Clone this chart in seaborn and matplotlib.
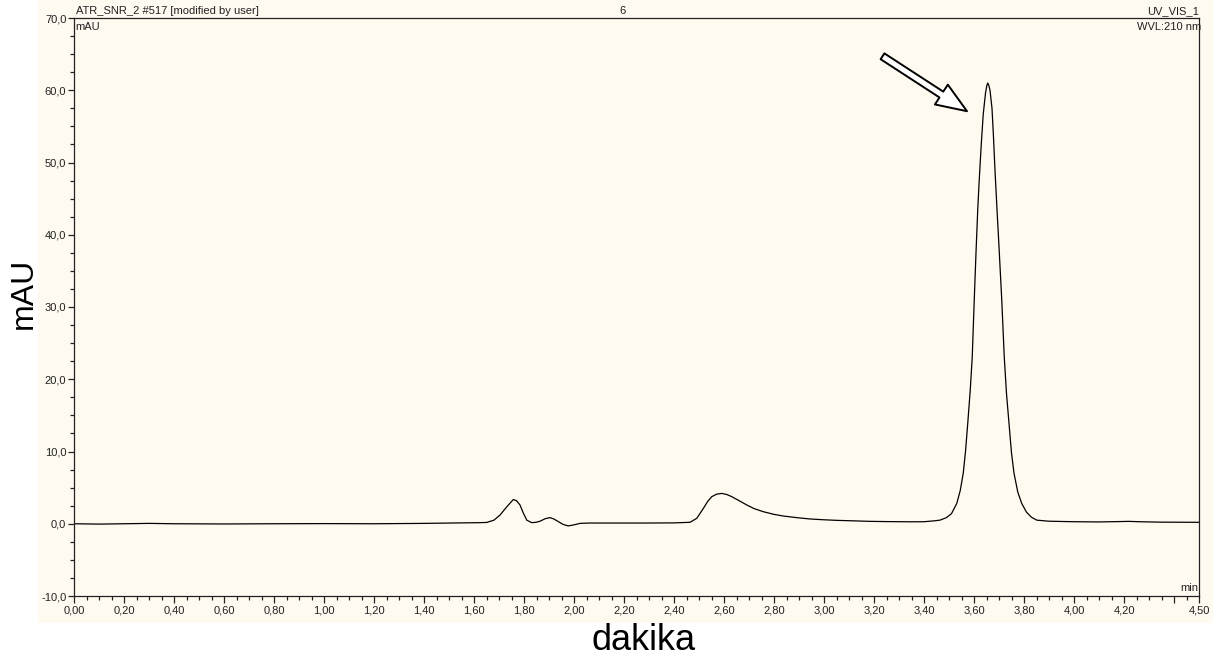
import numpy as np
import pandas as pd
import matplotlib
matplotlib.use("Agg")
import matplotlib.pyplot as plt
from matplotlib.patches import Rectangle, FancyArrowPatch
from matplotlib.ticker import FixedLocator, FuncFormatter
import seaborn as sns

# Chromatogram trace (retention time in min, absorbance in mAU)
time_min = [
    0.00, 0.10, 0.20, 0.30, 0.40, 0.60, 0.80, 1.00, 1.20, 1.40, 1.55, 1.62,
    1.651, 1.68, 1.704, 1.73, 1.757, 1.77, 1.784, 1.797, 1.811, 1.831, 1.848,
    1.864, 1.885, 1.904, 1.92, 1.937, 1.957, 1.977, 2.00, 2.024, 2.06, 2.104,
    2.20, 2.30, 2.40, 2.464, 2.491, 2.517, 2.535, 2.551, 2.571, 2.591, 2.611,
    2.631, 2.66, 2.691, 2.72, 2.757, 2.80, 2.837, 2.89, 2.944, 3.00, 3.051,
    3.12, 3.184, 3.25, 3.35, 3.40, 3.44, 3.464, 3.49, 3.51, 3.531, 3.545,
    3.557, 3.566, 3.575, 3.585, 3.593, 3.601, 3.608, 3.615, 3.620, 3.629,
    3.637, 3.646, 3.651, 3.655, 3.659, 3.664, 3.672, 3.678, 3.684, 3.692,
    3.699, 3.705, 3.711, 3.721, 3.730, 3.740, 3.750, 3.760, 3.775, 3.791,
    3.81, 3.83, 3.851, 3.90, 4.00, 4.10, 4.18, 4.22, 4.26, 4.35, 4.50,
]
signal_mau = [
    0.00, -0.05, 0.00, 0.05, 0.00, -0.03, 0.00, 0.02, 0.00, 0.05, 0.12, 0.15,
    0.18, 0.50, 1.20, 2.30, 3.35, 3.20, 2.60, 1.50, 0.50, 0.15, 0.20,
    0.35, 0.70, 0.85, 0.65, 0.30, -0.10, -0.30, -0.15, 0.05, 0.10, 0.10,
    0.10, 0.10, 0.12, 0.20, 0.75, 2.10, 3.10, 3.75, 4.10, 4.20, 4.05,
    3.75, 3.20, 2.60, 2.10, 1.67, 1.30, 1.07, 0.85, 0.66, 0.55, 0.47,
    0.40, 0.33, 0.30, 0.27, 0.28, 0.40, 0.50, 0.85, 1.40, 2.80, 4.60,
    7.00, 10.0, 13.9, 18.5, 23.1, 31.0, 37.5, 43.5, 47.0, 52.5,
    56.7, 59.6, 60.6, 61.0, 60.7, 60.0, 57.5, 53.5, 48.9, 43.5,
    39.0, 35.0, 31.0, 23.1, 18.0, 13.9, 9.80, 7.00, 4.40, 2.80,
    1.60, 0.90, 0.50, 0.35, 0.28, 0.25, 0.30, 0.33, 0.28, 0.22, 0.20,
]

x_major = [0.00, 0.20, 0.40, 0.60, 0.80, 1.00, 1.20, 1.40, 1.60, 1.80, 2.00,
           2.20, 2.40, 2.60, 2.80, 3.00, 3.20, 3.40, 3.60, 3.80, 4.00, 4.20,
           4.40, 4.50]
x_unlabeled = [4.40]
y_major = [-10.0, 0.0, 10.0, 20.0, 30.0, 40.0, 50.0, 60.0, 70.0]

cream = "#fffaf0"
W, H = 1219, 657

sns.set_theme(style="ticks")
plt.rcParams["font.family"] = ["Liberation Sans", "DejaVu Sans"]

fig = plt.figure(figsize=(W / 100, H / 100), dpi=100)
fig.patch.set_facecolor("white")
fig.patches.append(Rectangle((38 / W, 34 / H), (1213 - 38) / W, 1 - 34 / H,
                             transform=fig.transFigure, facecolor=cream,
                             edgecolor="none", zorder=-10))

ax = fig.add_axes([74 / W, (H - 596) / H, (1199 - 74) / W, (596 - 18) / H])
ax.set_facecolor(cream)

df = pd.DataFrame({"t": time_min, "mAU": signal_mau})
sns.lineplot(data=df, x="t", y="mAU", ax=ax, color="black", lw=0.9,
             estimator=None, sort=False)

ax.set_xlim(0, 4.5)
ax.set_ylim(-10, 70)

for s in ax.spines.values():
    s.set_visible(True)
    s.set_color("#222222")
    s.set_linewidth(0.9)

ax.xaxis.set_major_locator(FixedLocator(x_major))
ax.xaxis.set_minor_locator(FixedLocator(np.arange(0, 4.5001, 0.05)))
ax.xaxis.set_major_formatter(FuncFormatter(
    lambda v, p: "" if any(abs(v - u) < 1e-6 for u in x_unlabeled)
    else f"{v:.2f}".replace(".", ",")))
ax.yaxis.set_major_locator(FixedLocator(y_major))
ax.yaxis.set_minor_locator(FixedLocator(np.arange(-10, 70.01, 2.5)))
ax.yaxis.set_major_formatter(FuncFormatter(lambda v, p: f"{v:.1f}".replace(".", ",")))

fs = 8.0
ax.tick_params(axis="x", which="major", direction="out", length=5, width=0.9,
               pad=1.5, labelsize=fs, colors="#222222")
ax.tick_params(axis="x", which="minor", direction="out", length=3, width=0.9,
               colors="#222222")
ax.tick_params(axis="y", which="major", direction="out", length=4.5, width=0.9,
               pad=1, labelsize=fs, colors="#222222")
ax.tick_params(axis="y", which="minor", direction="out", length=3, width=0.9,
               colors="#222222")

ax.set_xlabel("")
ax.set_ylabel("")
fig.text(644 / W, (H - 640) / H, "dakika", fontsize=26, ha="center",
         va="center", color="black")
fig.text(24 / W, (H - 293) / H, "mAU", fontsize=23, ha="center",
         va="center", rotation=90, color="black")

# header / annotation texts
fig.text(76 / W, (H - 14) / H, "ATR_SNR_2 #517 [modified by user]", fontsize=fs,
         ha="left", va="baseline", color="#222222")
fig.text(622 / W, (H - 14) / H, "6", fontsize=fs, ha="center", va="baseline",
         color="#222222")
fig.text(1199 / W, (H - 14) / H, "UV_VIS_1", fontsize=fs, ha="right",
         va="baseline", color="#222222")
fig.text(75 / W, (H - 30) / H, "mAU", fontsize=fs, ha="left", va="baseline",
         color="#222222")
fig.text(1201 / W, (H - 30) / H, "WVL:210 nm", fontsize=fs, ha="right",
         va="baseline", color="#222222")
fig.text(1198 / W, (H - 591) / H, "min", fontsize=fs, ha="right",
         va="baseline", color="#222222")

# hollow arrow pointing at the main peak
arrow = FancyArrowPatch((3.234, 64.7), (3.572, 57.1),
                        arrowstyle="simple,head_length=22,head_width=17,tail_width=5",
                        mutation_scale=1, facecolor="white", edgecolor="black",
                        linewidth=1.4, shrinkA=0, shrinkB=0, zorder=5)
ax.add_patch(arrow)

fig.savefig("out.png", dpi=100, facecolor=fig.get_facecolor())
